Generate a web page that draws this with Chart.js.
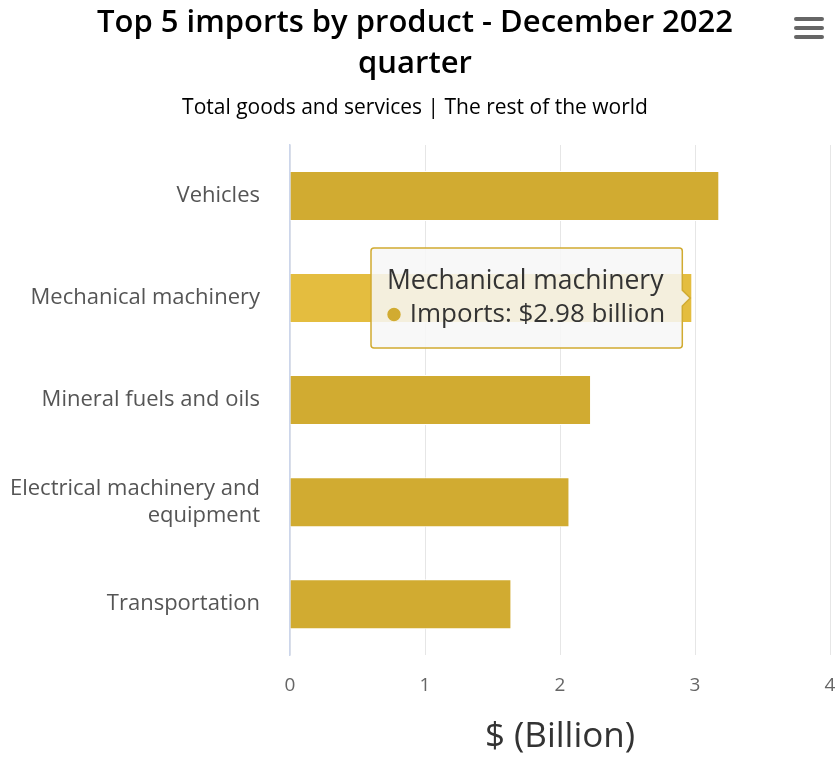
<!DOCTYPE html>
<html>
<head>
<meta charset="utf-8">
<script src="https://cdn.jsdelivr.net/npm/chart.js@4"></script>
<style>
  html, body { margin: 0; padding: 0; background: #fff; }
  #wrap { width: 839px; height: 758px; position: relative; }
</style>
</head>
<body>
<div id="wrap"><canvas id="importsChart"></canvas></div>
<script>
// Dados
const categories = [
    'Vehicles',
    'Mechanical machinery',
    'Mineral fuels and oils',
    ['Electrical machinery and', 'equipment'],
    'Transportation'
];
const imports = [3.18, 2.98, 2.23, 2.07, 1.64];
const xTicks = [0, 1, 2, 3, 4];

const gold = '#d1ab31';
const sans = "'Open Sans', sans-serif";

// menu icon (canto superior direito)
const menuIcon = {
    id: 'menuIcon',
    afterDraw(chart) {
        const c = chart.ctx;
        c.save();
        c.strokeStyle = '#666';
        c.lineWidth = 4;
        c.lineCap = 'round';
        [19, 28, 37].forEach(y => {
            c.beginPath();
            c.moveTo(796, y);
            c.lineTo(822, y);
            c.stroke();
        });
        c.restore();
    }
};

const ctx = document.getElementById('importsChart').getContext('2d');
const chart = new Chart(ctx, {
    type: 'bar',
    data: {
        labels: categories,
        datasets: [{
            label: 'Imports',
            data: imports,
            backgroundColor: gold,
            hoverBackgroundColor: '#e4bd3f',
            borderColor: '#fff',
            borderWidth: 1,
            hoverBorderColor: '#fff',
            barPercentage: 1,
            categoryPercentage: 0.49
        }]
    },
    options: {
        indexAxis: 'y',
        responsive: true,
        maintainAspectRatio: false,
        animation: false,
        layout: { padding: { left: 0, right: 9, top: 3, bottom: 0 } },
        plugins: {
            legend: { display: false },
            title: {
                display: true,
                text: ['Top 5 imports by product - December 2022', 'quarter'],
                color: '#000',
                font: { family: sans, size: 31, weight: '600', lineHeight: 1.32 },
                padding: { top: 0, bottom: 11 }
            },
            subtitle: {
                display: true,
                text: 'Total goods and services | The rest of the world',
                color: '#000',
                font: { family: sans, size: 21, weight: '500', lineHeight: 1.2 },
                padding: { top: 0, bottom: 24 }
            },
            tooltip: {
                xAlign: 'right',
                yAlign: 'center',
                backgroundColor: 'rgba(247,247,247,0.86)',
                borderColor: gold,
                borderWidth: 1.5,
                cornerRadius: 3,
                caretSize: 8,
                padding: { left: 16, right: 17, top: 17, bottom: 18 },
                titleColor: '#333',
                titleFont: { family: sans, size: 26.5, weight: 'normal' },
                titleMarginBottom: 2,
                bodyColor: '#333',
                bodyFont: { family: sans, size: 26 },
                usePointStyle: true,
                boxWidth: 14,
                boxHeight: 12,
                callbacks: {
                    title: items => {
                        const l = items[0].chart.data.labels[items[0].dataIndex];
                        return Array.isArray(l) ? l.join(' ') : l;
                    },
                    label: item => ' Imports: $' + item.parsed.x.toFixed(2) + ' billion',
                    labelPointStyle: () => ({ pointStyle: 'circle', rotation: 0 }),
                    labelColor: () => ({ backgroundColor: gold, borderColor: gold, borderWidth: 0 })
                }
            }
        },
        scales: {
            x: {
                min: 0,
                max: 4,
                afterBuildTicks: axis => { axis.ticks = xTicks.map(v => ({ value: v })); },
                afterFit: axis => { axis.paddingLeft = 0; axis.paddingRight = 0; },
                grid: { color: '#e6e6e6', lineWidth: 1, drawTicks: false },
                border: { display: false },
                ticks: {
                    color: '#666',
                    padding: 19,
                    font: { family: sans, size: 19 }
                },
                title: {
                    display: true,
                    text: '$ (Billion)',
                    color: '#333',
                    font: { family: sans, size: 35 },
                    padding: { top: 0, bottom: 0 }
                }
            },
            y: {
                afterFit: axis => { axis.width = 290; axis.paddingTop = 0; axis.paddingBottom = 0; },
                grid: { display: false, drawTicks: false },
                border: { display: true, color: '#ccd6eb', width: 1.5 },
                ticks: {
                    color: '#555',
                    padding: 30,
                    font: { family: sans, size: 22 }
                }
            }
        }
    },
    plugins: [menuIcon]
});

// mostra o tooltip da barra "Mechanical machinery"
const el = chart.getDatasetMeta(0).data[1];
chart.setActiveElements([{ datasetIndex: 0, index: 1 }]);
chart.tooltip.setActiveElements([{ datasetIndex: 0, index: 1 }], { x: el.x, y: el.y });
chart.update();
</script>
</body>
</html>
